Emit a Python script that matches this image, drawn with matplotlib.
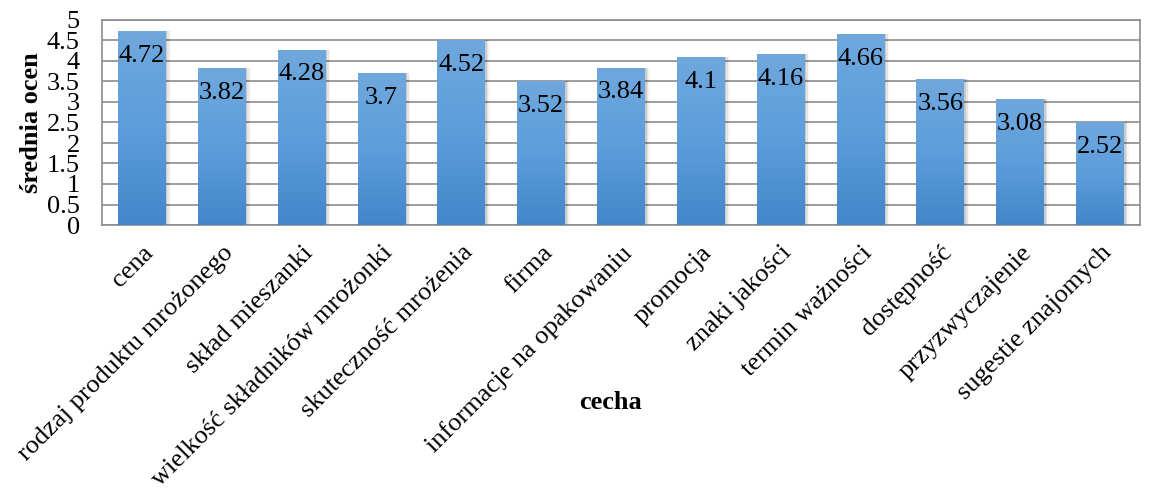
import matplotlib
matplotlib.use('Agg')
import matplotlib.pyplot as plt
import numpy as np
from matplotlib.colors import LinearSegmentedColormap

categories = ['cena', 'rodzaj produktu mrożonego', 'skład mieszanki',
              'wielkość składników mrożonki', 'skuteczność mrożenia', 'firma',
              'informacje na opakowaniu', 'promocja', 'znaki jakości',
              'termin ważności', 'dostępność', 'przyzwyczajenie',
              'sugestie znajomych']
values = [4.72, 3.82, 4.28, 3.7, 4.52, 3.52, 3.84, 4.1, 4.16, 4.66, 3.56, 3.08, 2.52]
yticks = [0, 0.5, 1, 1.5, 2, 2.5, 3, 3.5, 4, 4.5, 5]

plt.rcParams['font.family'] = ['Liberation Serif', 'DejaVu Serif']

fig = plt.figure(figsize=(11.57, 4.92), dpi=100)
ax = fig.add_axes([102 / 1157, 1 - 225 / 492, 1038 / 1157, 205 / 492])

x = np.arange(len(categories))
width = 0.6
cmap = LinearSegmentedColormap.from_list('blu', ['#4287ca', '#5c9ddc', '#70a8dd'])
grad = np.linspace(0, 1, 256).reshape(-1, 1)

for xi, v in zip(x, values):
    # soft shadow on the right
    for k, a in enumerate([0.10, 0.07, 0.04]):
        ax.bar(xi + 0.02 + k * 0.02, v, width, bottom=0, color='k', alpha=a,
               zorder=2, linewidth=0)
    bar = ax.bar(xi, v, width, color='none', zorder=3, linewidth=0)[0]
    im = ax.imshow(grad, cmap=cmap, aspect='auto', origin='lower',
                   extent=[xi - width / 2, xi + width / 2, 0, v], zorder=3)
    im.set_clip_path(bar)
    ax.annotate(f'{v:g}', (xi, v), xytext=(0, -10), textcoords='offset points',
                ha='center', va='top', fontsize=19, zorder=4)

ax.set_xlim(-0.5, len(categories) - 0.5)
ax.set_ylim(0, 5)
ax.set_yticks(yticks)
ax.set_yticklabels([f'{t:g}' for t in yticks], fontsize=19)
ax.yaxis.grid(True, color='#8c8c8c', linewidth=1.2, zorder=0)
ax.set_axisbelow(True)
ax.tick_params(axis='y', length=0, pad=16)
ax.tick_params(axis='x', length=0, pad=12)
ax.set_xticks(x)
ax.set_xticklabels(categories, rotation=45, ha='right', rotation_mode='anchor',
                   fontsize=19)
for s in ax.spines.values():
    s.set_color('#8c8c8c')
    s.set_linewidth(1.2)

ax.set_ylabel('średnia ocen', fontsize=19, fontweight='bold')
ax.yaxis.set_label_coords(-0.068, 0.5)
ax.set_xlabel('cecha', fontsize=19, fontweight='bold')
ax.xaxis.set_label_coords(0.49, -0.868)
ax.xaxis.label.set_va('center')
ax.yaxis.label.set_va('center')

fig.savefig('out.png', dpi=100)
